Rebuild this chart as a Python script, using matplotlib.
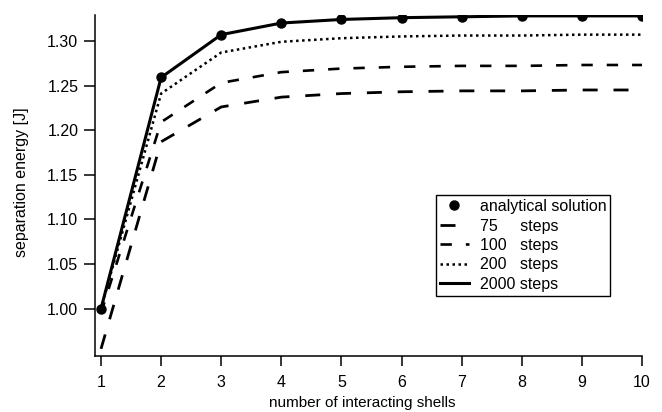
import matplotlib
matplotlib.use("Agg")
import matplotlib.pyplot as plt

plt.rcParams['font.family'] = ['Liberation Sans', 'DejaVu Sans']
plt.rcParams['font.size'] = 11

shells = [1, 2, 3, 4, 5, 6, 7, 8, 9, 10]
analytical = [1.000, 1.259, 1.307, 1.320, 1.324, 1.326, 1.327, 1.328, 1.328, 1.328]
steps_75 = [0.955, 1.187, 1.226, 1.237, 1.241, 1.243, 1.244, 1.244, 1.245, 1.245]
steps_100 = [0.995, 1.209, 1.253, 1.265, 1.269, 1.271, 1.272, 1.272, 1.273, 1.273]
steps_200 = [1.000, 1.241, 1.287, 1.299, 1.303, 1.305, 1.306, 1.306, 1.307, 1.307]
steps_2000 = [1.000, 1.259, 1.307, 1.320, 1.324, 1.326, 1.327, 1.328, 1.328, 1.328]

fig = plt.figure(figsize=(6.62, 4.12), dpi=100)
ax = fig.add_axes([95/662, 1 - 356/412, 547/662, 341/412])

l75, = ax.plot(shells, steps_75, color='black', lw=2.0, linestyle=(0, (5.4, 5.7)),
               label='75     steps')
l100, = ax.plot(shells, steps_100, color='black', lw=1.9, linestyle=(0, (4.3, 5.3)),
                label='100   steps')
l200, = ax.plot(shells, steps_200, color='black', lw=1.8, linestyle=(0, (1, 1.4)),
                label='200   steps')
l2000, = ax.plot(shells, steps_2000, color='black', lw=2.2, linestyle='-',
                 label='2000 steps')
dots, = ax.plot(shells, analytical, 'o', color='black', ms=6.5, zorder=5,
                label='analytical solution')

ax.set_xlim(0.9, 10)
ax.set_ylim(0.947, 1.329)
ax.set_xticks(shells)
ax.set_yticks([1.00, 1.05, 1.10, 1.15, 1.20, 1.25, 1.30])
ax.set_yticklabels(['1.00', '1.05', '1.10', '1.15', '1.20', '1.25', '1.30'])

for s in ['top', 'right']:
    ax.spines[s].set_visible(False)
for s in ['left', 'bottom']:
    ax.spines[s].set_linewidth(1.1)

ax.tick_params(axis='both', labelsize=11.5)
ax.tick_params(axis='x', direction='out', length=7.5, width=1.1, pad=6)
ax.tick_params(axis='y', direction='out', length=8, width=1.1, pad=4)

ax.set_xlabel('number of interacting shells', fontsize=11)
ax.xaxis.set_label_coords(0.488, -0.118)
ax.set_ylabel('separation energy [J]', fontsize=11.5)
ax.yaxis.set_label_coords(-0.12, 0.51)

leg = ax.legend(handles=[dots, l75, l100, l200, l2000], loc='upper left',
                bbox_to_anchor=(0.623, 0.472), frameon=True, fancybox=False,
                edgecolor='black', framealpha=1, borderpad=0.25, labelspacing=0.28,
                handlelength=1.8, handletextpad=0.7, numpoints=1, borderaxespad=0,
                prop={'size': 11.5})
leg.get_frame().set_linewidth(1.0)

fig.savefig('out.png', dpi=100)
